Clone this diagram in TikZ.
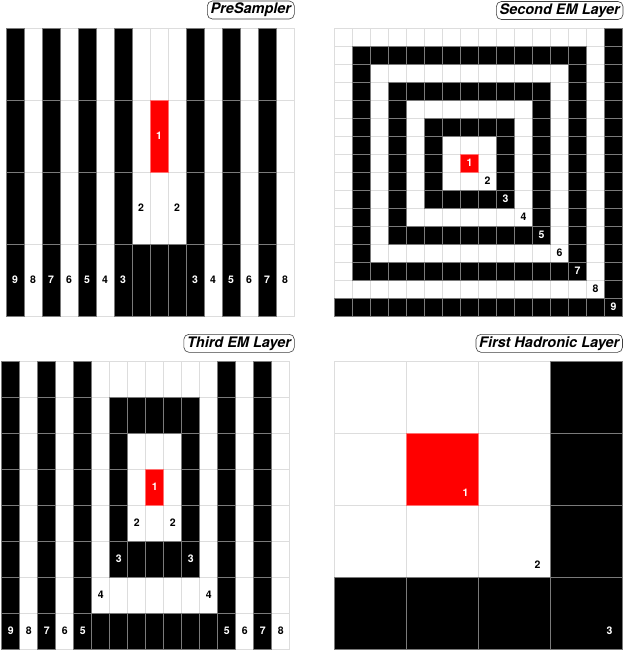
\documentclass[tikz,border=0pt]{standalone}
\usepackage{fontspec}
\setmainfont{TeX Gyre Heros}
\definecolor{gl}{HTML}{DDDDDD}
\definecolor{gd}{HTML}{7A7A7A}
\definecolor{rb}{HTML}{FF7070}
\tikzset{
  cellw/.style={fill=white,draw=gl,line width=0.8pt},
  cellb/.style={fill=black,draw=gd,line width=0.8pt},
  cellr/.style={fill=red,draw=rb,line width=0.8pt},
  lbl/.style={font=\fontsize{10.5}{10.5}\selectfont\bfseries, inner sep=0pt},
  ttl/.style={draw=black!75, rounded corners=5pt, line width=0.6pt,
    font=\fontsize{14.5}{14.5}\selectfont\bfseries\itshape,
    inner xsep=3.2pt, inner ysep=0pt, minimum height=18pt, anchor=east}
}
\newcommand\setpanel[6]{\def\px{#1}\def\py{#2}\def\pw{#3}\def\ph{#4}\def\pcc{#5}\def\pcr{#6}}
\newcommand\gridpanel[2]{%
  \pgfmathtruncatemacro\lastc{#1-1}%
  \pgfmathtruncatemacro\lastr{#2-1}%
  \foreach \c in {0,...,\lastc}{\foreach \r in {0,...,\lastr}{
    \draw[cellw] ({\px+\c*\pw},{\py+\r*\ph}) rectangle ++(\pw,\ph);
  }}
  \foreach \c in {0,...,\lastc}{\foreach \r in {0,...,\lastr}{
    \pgfmathtruncatemacro\d{max(abs(\c-\pcc),abs(\r-\pcr))}%
    \pgfmathtruncatemacro\m{mod(\d,2)}%
    \ifnum\d>0 \ifnum\m=0 \draw[cellb] ({\px+\c*\pw},{\py+\r*\ph}) rectangle ++(\pw,\ph);\fi\fi
  }}
  \draw[cellr] ({\px+\pcc*\pw},{\py+\pcr*\ph}) rectangle ++(\pw,\ph);
}
\newcommand\plab[4]{%
  \pgfmathtruncatemacro\d{max(abs(#2-\pcc),abs(#3-\pcr))}%
  \pgfmathtruncatemacro\m{mod(\d,2)}%
  \ifnum\d=0 \def\lc{white}\else\ifnum\m=0 \def\lc{white}\else\def\lc{black}\fi\fi
  \node[lbl,text=\lc] (#1) at ({\px+(#2+0.5)*\pw},{\py+(#3+0.5)*\ph}) {#4};
}
\begin{document}
\begin{tikzpicture}[x=1pt,y=-1pt]
\useasboundingbox[fill=white] (0,0) rectangle (624,651);

% ---------- PreSampler ----------
\setpanel{6}{28}{18}{72}{8}{1}
\gridpanel{16}{4}
\plab{pa1}{8}{1}{1}
\plab{pa2l}{7}{2}{2}\plab{pa2r}{9}{2}{2}
\plab{pa3l}{6}{3}{3}\plab{pa3r}{10}{3}{3}
\plab{pa4l}{5}{3}{4}\plab{pa4r}{11}{3}{4}
\plab{pa5l}{4}{3}{5}\plab{pa5r}{12}{3}{5}
\plab{pa6l}{3}{3}{6}\plab{pa6r}{13}{3}{6}
\plab{pa7l}{2}{3}{7}\plab{pa7r}{14}{3}{7}
\plab{pa8l}{1}{3}{8}\plab{pa8r}{15}{3}{8}
\plab{pa9l}{0}{3}{9}
\node[ttl] (tpre) at (294.6,10) {PreSampler};

% ---------- Second EM Layer ----------
\setpanel{334.5}{28}{18}{18}{7}{7}
\gridpanel{16}{16}
\plab{sb1}{7}{7}{1}
\plab{sb2}{8}{8}{2}
\plab{sb3}{9}{9}{3}
\plab{sb4}{10}{10}{4}
\plab{sb5}{11}{11}{5}
\plab{sb6}{12}{12}{6}
\plab{sb7}{13}{13}{7}
\plab{sb8}{14}{14}{8}
\plab{sb9}{15}{15}{9}
\node[ttl] (tsec) at (623.3,10.5) {Second EM Layer};

% ---------- Third EM Layer ----------
\setpanel{1.7}{361}{18}{36}{8}{3}
\gridpanel{16}{8}
\plab{tc1}{8}{3}{1}
\plab{tc2l}{7}{4}{2}\plab{tc2r}{9}{4}{2}
\plab{tc3l}{6}{5}{3}\plab{tc3r}{10}{5}{3}
\plab{tc4l}{5}{6}{4}\plab{tc4r}{11}{6}{4}
\plab{tc5l}{4}{7}{5}\plab{tc5r}{12}{7}{5}
\plab{tc6l}{3}{7}{6}\plab{tc6r}{13}{7}{6}
\plab{tc7l}{2}{7}{7}\plab{tc7r}{14}{7}{7}
\plab{tc8l}{1}{7}{8}\plab{tc8r}{15}{7}{8}
\plab{tc9l}{0}{7}{9}
\node[ttl] (tthi) at (294.6,343.3) {Third EM Layer};

% ---------- First Hadronic Layer ----------
\setpanel{334.5}{361}{72}{72}{1}{1}
\gridpanel{4}{4}
\node[lbl,text=white] (hd1) at (465.5,493) {1};
\node[lbl,text=black] (hd2) at (537.5,565) {2};
\node[lbl,text=white] (hd3) at (609.5,631) {3};
\node[ttl] (thad) at (622.8,343.3) {First Hadronic Layer};
\end{tikzpicture}
\end{document}
